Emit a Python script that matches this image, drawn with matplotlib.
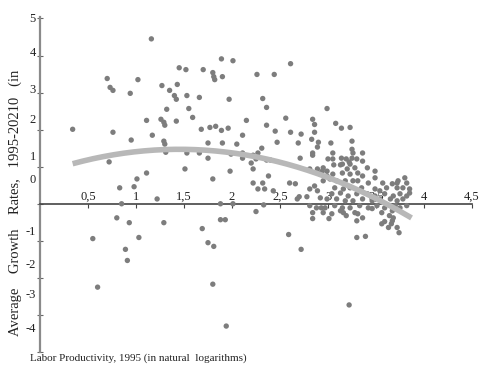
import numpy as np
import matplotlib
matplotlib.use("Agg")
import matplotlib.pyplot as plt

plt.rcParams['font.family'] = ['Liberation Serif', 'DejaVu Serif']

# ---- data ----
prod_1995 = [
    1.16, 1.45, 1.52, 0.70, 1.02, 0.73, 0.76, 0.94, 1.27, 1.35, 1.43, 1.40, 1.42, 1.53, 1.66, 1.32, 1.55, 1.59,
    1.11, 1.26, 1.29, 1.30, 1.42, 0.34, 1.89, 2.01, 1.70, 1.80, 1.81, 1.82, 1.90, 2.26, 2.44, 2.61, 1.97, 2.32,
    2.36, 2.99, 2.15, 2.56, 2.84, 2.86, 3.08, 3.14, 3.23, 2.36, 1.68, 1.77, 1.83, 1.89, 1.96,
    0.76, 0.95, 1.17, 1.29, 1.30, 1.31, 1.53, 1.66, 0.72, 1.51, 1.11, 1.01, 0.83, 0.98, 1.22, 0.85, 1.75, 1.90,
    2.05, 1.75, 1.99, 1.98, 1.80, 2.11, 1.88, 2.01,
    2.45, 2.61, 2.72, 2.86, 2.47, 2.69, 2.90, 2.31, 2.89, 2.11, 2.27, 2.11, 2.22, 2.84, 2.71, 2.25, 2.36, 2.40,
    2.20, 2.22, 2.81, 2.89, 2.38, 2.22, 2.32, 2.27, 2.34, 2.60, 2.66, 2.86, 2.81, 2.78, 2.70, 2.68, 2.89, 2.43,
    2.33, 2.92, 2.95, 2.99,
    0.80, 0.93, 1.29, 1.88, 1.93, 1.69, 0.55, 1.03, 1.75, 1.81, 0.89, 0.91, 0.60, 1.80, 1.94, 2.25, 2.59, 2.72,
    2.84, 3.01, 3.30, 3.39, 3.22, 3.56, 3.59, 3.64, 3.68, 3.66, 3.72, 3.74, 2.88, 2.93, 3.13, 3.19, 3.31, 3.36,
    3.46,
    2.83, 3.03, 3.25, 2.84, 3.25, 3.05, 3.26, 3.36, 3.00, 3.05, 3.14, 3.19, 3.22, 3.30, 3.36, 2.95, 3.13, 3.20,
    3.28, 3.41, 2.90, 2.99, 3.05, 3.15, 3.23, 3.31, 3.36, 3.49, 3.02, 3.09, 3.18, 3.26, 3.42, 3.57, 3.67, 3.73,
    3.80, 3.82, 3.61, 3.72, 3.78, 3.85, 3.07, 3.16, 3.23, 3.35, 3.49, 3.54, 3.04, 3.13, 3.21, 3.30, 3.41, 3.49,
    3.59, 3.68, 3.75, 3.82, 3.85, 2.92, 2.99, 3.09, 3.18, 3.26, 3.36, 3.46, 3.54, 3.65, 3.72, 3.78, 2.81, 2.97,
    3.07, 3.15, 3.23, 3.33, 3.42, 3.51, 3.59, 3.70, 3.75, 3.82, 2.84, 2.95, 3.04, 3.16, 3.28, 3.56, 3.67, 3.30,
    3.67, 3.63, 3.25, 3.49, 3.31, 3.72, 2.94, 3.06, 3.15, 3.23,
]
growth = [
    4.45, 3.67, 3.62, 3.38, 3.35, 3.14, 3.06, 2.98, 3.19, 3.06, 3.22, 2.92, 2.82, 2.92, 2.87, 2.55, 2.57, 2.33,
    2.25, 2.28, 2.20, 2.12, 2.23, 2.01, 3.91, 3.86, 3.62, 3.54, 3.43, 3.35, 3.43, 3.49, 3.49, 3.78, 2.82, 2.84,
    2.60, 2.57, 2.25, 2.31, 2.28, 2.14, 2.17, 2.04, 2.06, 2.12, 2.01, 2.06, 2.09, 1.98, 2.04,
    1.93, 1.72, 1.85, 1.69, 1.61, 1.39, 1.37, 1.37, 1.13, 0.94, 0.83, 0.67, 0.43, 0.46, 0.13, 0.00, 1.64, 1.64,
    1.61, 1.23, 1.34, 0.88, 0.67, 1.85, 0.00, 0.00,
    1.96, 1.93, 1.88, 1.93, 1.66, 1.64, 1.66, 1.50, 1.53, 1.37, 1.37, 1.23, 1.31, 1.31, 1.23, 1.21, 1.18, 1.18,
    1.10, 0.94, 0.94, 0.94, 0.75, 0.56, 0.56, 0.40, 0.40, 0.56, 0.54, 0.48, 0.40, 0.19, 0.19, 0.13, 0.35, 0.35,
    -0.03, 0.80, 0.62, 0.75,
    -0.38, -0.51, -0.51, -0.43, -0.43, -0.67, -0.94, -0.91, -1.05, -1.15, -1.23, -1.53, -2.25, -2.17, -3.30,
    -0.21, -0.83, -1.23, -0.40, -0.40, -0.91, -0.88, -2.73, -0.54, -0.48, -0.32, -0.38, -0.54, -0.64, -0.78,
    -0.11, -0.11, -0.19, -0.32, -0.27, -0.38, -0.13,
    1.74, 1.64, 1.69, 1.37, 1.47, 1.37, 1.37, 1.37, 1.21, 1.21, 1.23, 1.21, 1.13, 1.21, 1.15, 0.97, 1.05, 0.94,
    0.97, 0.97, 0.83, 0.88, 0.80, 0.83, 0.80, 0.83, 0.75, 0.70, 0.67, 0.62, 0.62, 0.62, 0.56, 0.56, 0.54, 0.62,
    0.70, 0.56, 0.43, 0.43, 0.43, 0.40, 0.43, 0.40, 0.43, 0.43, 0.40, 0.35, 0.27, 0.29, 0.21, 0.27, 0.27, 0.21,
    0.27, 0.21, 0.27, 0.21, 0.29, 0.16, 0.13, 0.13, 0.08, 0.08, 0.13, 0.08, 0.13, 0.13, 0.08, 0.13, -0.05, -0.11,
    -0.05, -0.11, -0.11, -0.05, -0.11, -0.05, -0.11, -0.05, -0.11, -0.05, -0.24, -0.24, -0.27, -0.24, -0.24,
    -0.24, -0.19, -0.46, -0.46, -0.64, 1.23, 0.88, 0.62, 0.56, 0.88, 1.05, 1.07, 1.07,
]
# quadratic fit shown in the chart: growth = c2*x^2 + c1*x + c0
fit_coef = [-0.316, 0.916, 0.806]
fit_range = [0.34, 3.87]

xticks = [0.5, 1.0, 1.5, 2.0, 2.5, 3.0, 3.5, 4.0, 4.5]
xtick_labels = ["0,5", "1", "1,5", "2", "2,5", "3", "3,5", "4", "4,5"]
yticks = [-4, -3, -2, -1, 0, 1, 2, 3, 4, 5]
ytick_labels = ["-4", "-3", "-2", "-1", "0", "1", "2", "3", "4", "5"]
# where the reference prints each y label (labels sit above their ticks)
ytick_label_pos = [-3.35, -2.41, -1.61, -0.72, 0.67, 1.29, 2.31, 3.11, 4.10, 5.04]

# ---- figure ----
fig = plt.figure(figsize=(4.79, 3.70), dpi=100)
ax = fig.add_axes([40 / 479, 1 - 352 / 370, 432 / 479, 335 / 370])
ax.set_xlim(0, 4.5)
ax.set_ylim(-4, 5)

ax.scatter(prod_1995, growth, s=15, color='#7d7d7d', edgecolors='none', zorder=3)

xf = np.linspace(fit_range[0], fit_range[1], 200)
ax.plot(xf, np.polyval(fit_coef, xf), color='#b8b8b8', lw=4.0, solid_capstyle='butt', zorder=4)

for s in ['top', 'right']:
    ax.spines[s].set_visible(False)
ax.spines['bottom'].set_position(('data', 0))
ax.spines['bottom'].set_color('#444444')
ax.spines['bottom'].set_linewidth(1.2)
ax.spines['left'].set_color('#8a8a8a')
ax.spines['left'].set_linewidth(1.6)

ax.set_xticks(xticks)
ax.set_xticklabels(xtick_labels)
ax.tick_params(axis='x', direction='out', length=3, width=0.8, color='#444444',
               pad=-12.5, labelsize=9, labelcolor='#222222')

ax.set_yticks(yticks)
ax.set_yticklabels([''] * len(yticks))
ax.tick_params(axis='y', which='major', direction='inout', length=4, width=0.8, color='#666666')
ax.set_yticks(ytick_label_pos, minor=True)
ax.set_yticklabels(ytick_labels, minor=True)
ax.tick_params(axis='y', which='minor', length=0, pad=3, labelsize=9, labelcolor='#222222')

fig.text(15 / 479, 1 - 203 / 370, "Average    Growth    Rates,   1995-20210   (in",
         rotation=90, ha='center', va='center', fontsize=10.5, color='#222222')
fig.text(30 / 479, 1 - 358 / 370, "Labor Productivity, 1995 (in natural  logarithms)",
         ha='left', va='center', fontsize=8, color='#222222')

fig.savefig('out.png', dpi=100)
